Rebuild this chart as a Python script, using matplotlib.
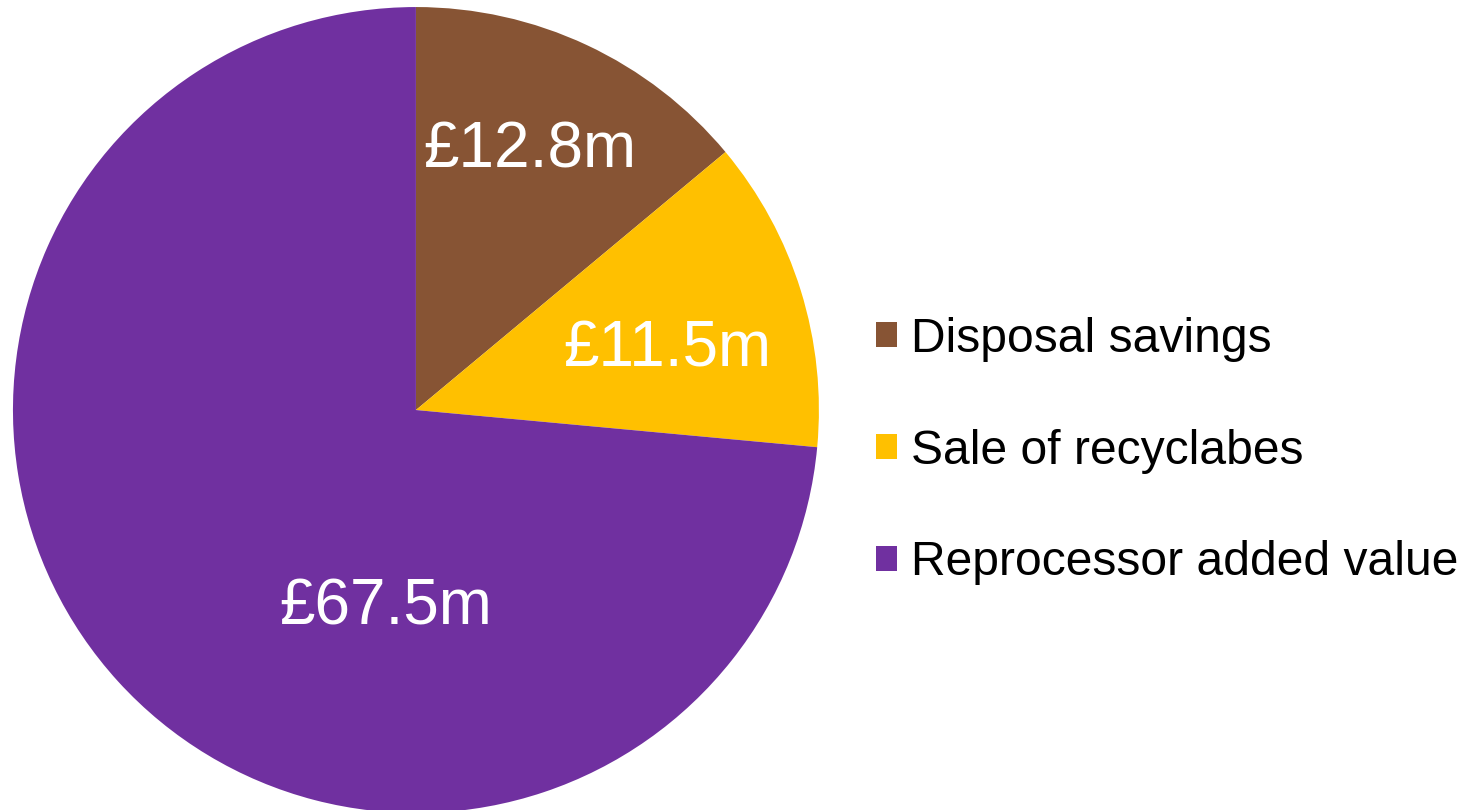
import matplotlib.pyplot as plt
from matplotlib.patches import Patch

plt.rcParams['font.family'] = ['Liberation Sans', 'DejaVu Sans']

categories = ['Disposal savings', 'Sale of recyclabes', 'Reprocessor added value']
values = [12.8, 11.5, 67.5]
value_labels = ['£12.8m', '£11.5m', '£67.5m']
colors = ['#875434', '#FFC000', '#7030A0']

# label spots inside the pie (data coords, radius 1)
label_pos = [(0.283, 0.645), (0.623, 0.149), (-0.074, -0.489)]

fig = plt.figure(figsize=(14.63, 8.10), dpi=100)
ax = fig.add_axes([0.0088, -0.0037, 0.551, 0.995])

wedges, _ = ax.pie(values, colors=colors, startangle=90, counterclock=False,
                   radius=1, wedgeprops=dict(linewidth=0))
ax.set_xlim(-1, 1)
ax.set_ylim(-1, 1)
ax.set_aspect('equal')
ax.axis('off')

for (x, y), txt in zip(label_pos, value_labels):
    ax.text(x, y, txt, color='white', fontsize=46, ha='center', va='center')

handles = [Patch(facecolor=c, edgecolor='none') for c in colors]
fig.legend(handles, categories, loc='center left',
           bbox_to_anchor=(0.599, 0.443), frameon=False, fontsize=34.6,
           handlelength=0.42, handleheight=0.42, handletextpad=0.3,
           labelspacing=1.39, borderaxespad=0, borderpad=0)

fig.savefig('out.png', dpi=100)
